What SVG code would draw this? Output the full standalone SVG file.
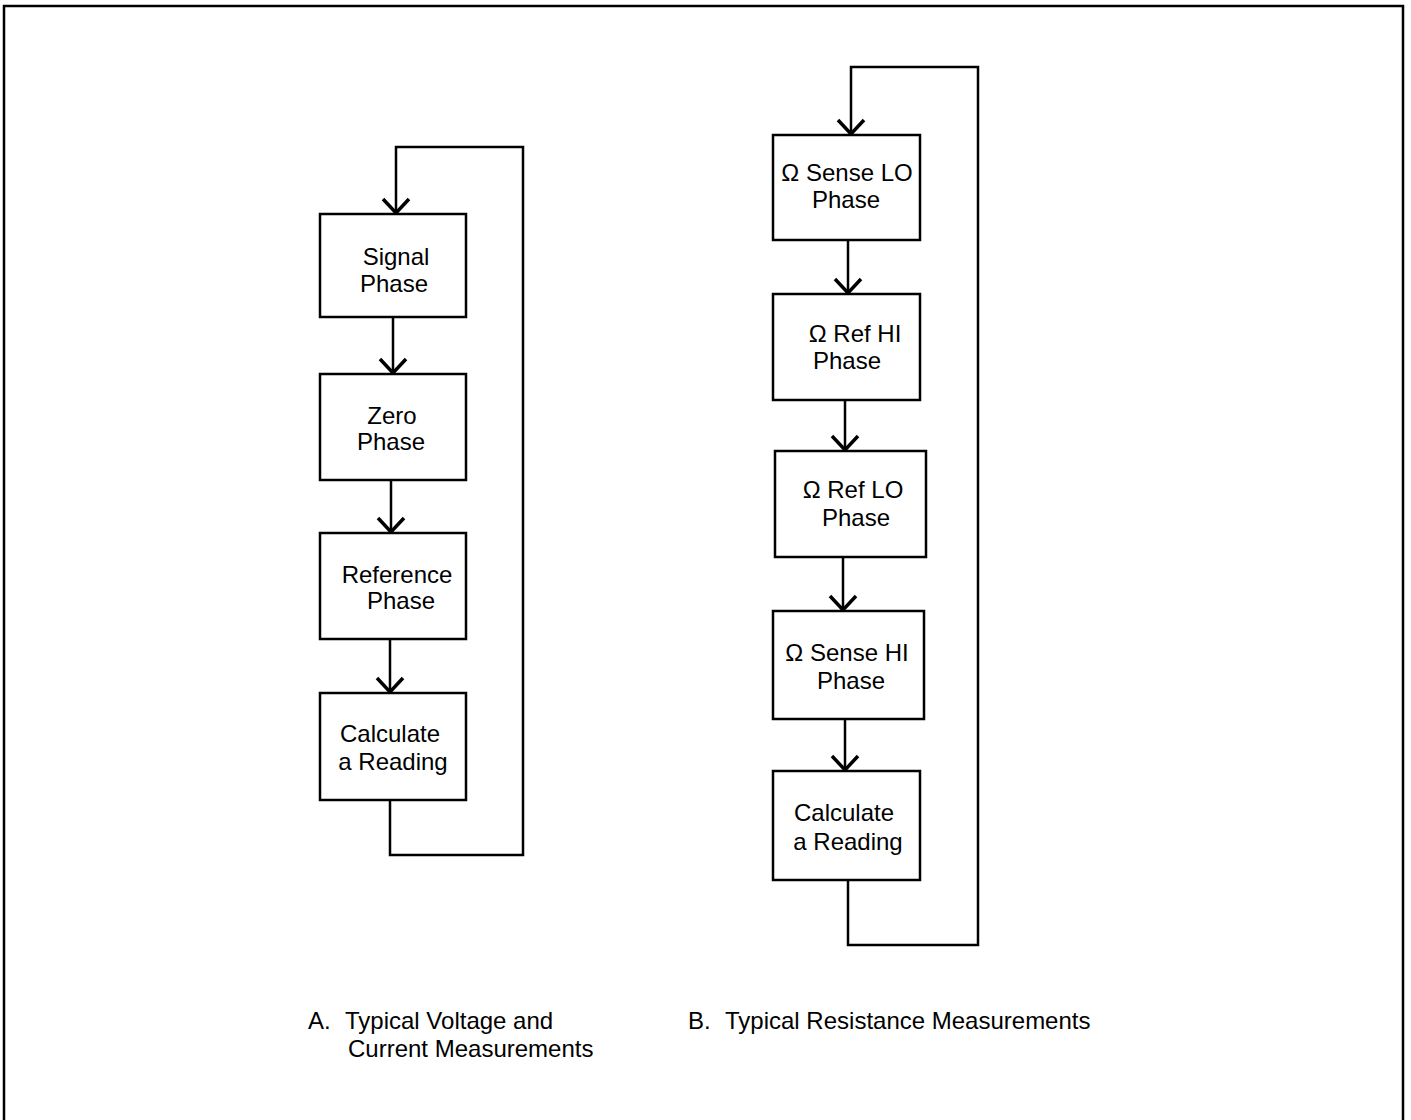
<svg xmlns="http://www.w3.org/2000/svg" width="1411" height="1120" viewBox="0 0 1411 1120">
<style>
.box{fill:#fff;stroke:#000;stroke-width:2.5}
.ln{fill:none;stroke:#000;stroke-width:2.5}
.t{font-family:"Liberation Sans",Arial,sans-serif;font-size:24px;fill:#000;text-anchor:middle}
.c{font-family:"Liberation Sans",Arial,sans-serif;font-size:24px;fill:#000}
</style>
<defs>
<marker id="arr" markerUnits="userSpaceOnUse" markerWidth="30" markerHeight="30" refX="0" refY="0" orient="auto" viewBox="-16 -15 20 30" overflow="visible">
<path d="M-14,-13 L0,0 L-14,13" fill="none" stroke="#000" stroke-width="3.5"/>
</marker>
</defs>
<rect width="1411" height="1120" fill="#fff"/>
<path class="ln" d="M4,1120 V6 H1403 V1120" stroke-width="2"/>
<g id="connectors">
<path class="ln" d="M393,317 V373" marker-end="url(#arr)"/>
<path class="ln" d="M391,480 V532" marker-end="url(#arr)"/>
<path class="ln" d="M390,639 V692" marker-end="url(#arr)"/>
<path class="ln" d="M390,800 V855 H523 V147 H396 V213" marker-end="url(#arr)"/>
<path class="ln" d="M848,240 V293" marker-end="url(#arr)"/>
<path class="ln" d="M845,400 V450" marker-end="url(#arr)"/>
<path class="ln" d="M843,557 V610" marker-end="url(#arr)"/>
<path class="ln" d="M845,719 V770" marker-end="url(#arr)"/>
<path class="ln" d="M848,880 V945 H978 V67 H851 V134" marker-end="url(#arr)"/>
</g>
<g id="signal">
<rect class="box" x="320" y="214" width="146" height="103"/>
<text class="t" x="396" y="265">Signal</text>
<text class="t" x="394" y="292">Phase</text>
</g>
<g id="zero">
<rect class="box" x="320" y="374" width="146" height="106"/>
<text class="t" x="392" y="424">Zero</text>
<text class="t" x="391" y="450">Phase</text>
</g>
<g id="reference">
<rect class="box" x="320" y="533" width="146" height="106"/>
<text class="t" x="397" y="583">Reference</text>
<text class="t" x="401" y="609">Phase</text>
</g>
<g id="calcA">
<rect class="box" x="320" y="693" width="146" height="107"/>
<text class="t" x="390" y="742">Calculate</text>
<text class="t" x="393" y="770">a Reading</text>
</g>
<g id="senseLO">
<rect class="box" x="773" y="135" width="147" height="105"/>
<text class="t" x="847" y="181">Ω Sense LO</text>
<text class="t" x="846" y="208">Phase</text>
</g>
<g id="refHI">
<rect class="box" x="773" y="294" width="147" height="106"/>
<text class="t" x="855" y="342">Ω Ref HI</text>
<text class="t" x="847" y="369">Phase</text>
</g>
<g id="refLO">
<rect class="box" x="775" y="451" width="151" height="106"/>
<text class="t" x="853" y="498">Ω Ref LO</text>
<text class="t" x="856" y="526">Phase</text>
</g>
<g id="senseHI">
<rect class="box" x="773" y="611" width="151" height="108"/>
<text class="t" x="847" y="661">Ω Sense HI</text>
<text class="t" x="851" y="689">Phase</text>
</g>
<g id="calcB">
<rect class="box" x="773" y="771" width="147" height="109"/>
<text class="t" x="844" y="821">Calculate</text>
<text class="t" x="848" y="850">a Reading</text>
</g>
<g id="captions">
<text class="c" x="308" y="1029">A.</text>
<text class="c" x="345" y="1029">Typical Voltage and</text>
<text class="c" x="348" y="1057">Current Measurements</text>
<text class="c" x="688" y="1029">B.</text>
<text class="c" x="725" y="1029">Typical Resistance Measurements</text>
</g>
</svg>
